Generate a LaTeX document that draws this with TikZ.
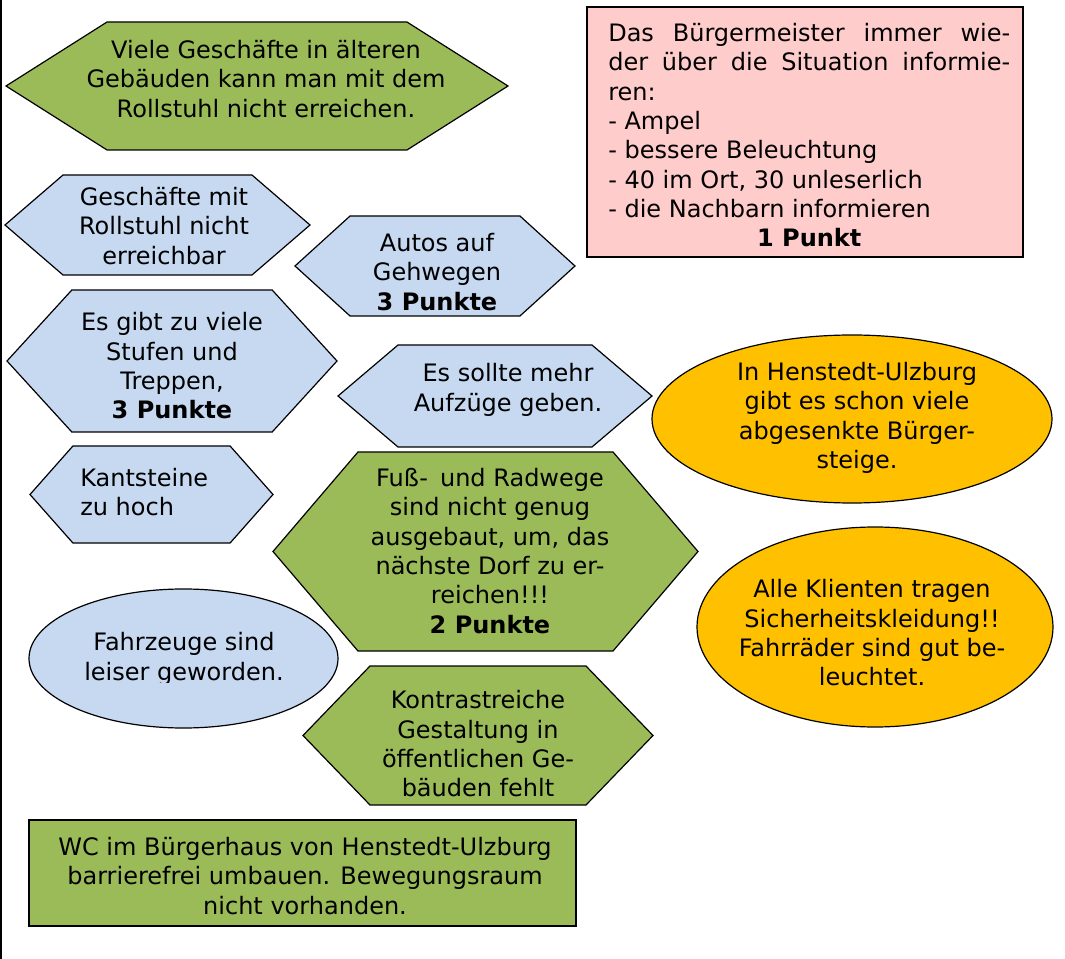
\documentclass[tikz,border=0pt]{standalone}
\usepackage{fontspec}
\setmainfont{DejaVu Sans}
\usepackage{xcolor}
\usetikzlibrary{positioning, shapes.geometric, shapes.symbols}
\definecolor{cGREEN}{HTML}{9BBB59}
\definecolor{cBLUE}{HTML}{C6D9F1}
\definecolor{cPINK}{HTML}{FFCCCC}
\definecolor{cORANGE}{HTML}{FFC000}
\newcommand{\pxu}{0.75pt}
\tikzset{
  hexbox/.style={
    shape=signal, signal to=west and east,
    draw=black, line width=0.9pt,
    fill=#1, inner sep=0pt
  },
  ovalbox/.style={
    ellipse, draw=black, line width=0.9pt,
    fill=#1, inner sep=0pt
  },
  plainbox/.style={
    rectangle, draw=black, line width=1.1pt,
    fill=#1, inner sep=0pt
  },
  txt/.style={
    font=\fontsize{18}{22}\selectfont,
    align=center, inner sep=0pt
  }
}

\begin{document}
\begin{tikzpicture}[x=0.75pt, y=-0.75pt]
  \useasboundingbox (0,0) rectangle (1065,959);
  \draw[line width=2pt] (1,0) -- (1,959);

  \node[hexbox=cGREEN, minimum width=502*\pxu, minimum height=128*\pxu, signal pointer angle=64.7] (viele) at (257,86) {};
  \node[txt] (vieletxt) at (266,79) {Viele Geschäfte in älteren\\Gebäuden kann man mit dem\\Rollstuhl nicht erreichen.};

  \node[plainbox=cPINK, minimum width=436*\pxu, minimum height=250*\pxu] (buerger) at (805,132) {};
  \node[txt, align=justify, text width=402*\pxu, anchor=north west] (buergertxt) at (608,23)
    {Das Bürgermeister immer wie-\linebreak der über die Situation informie-\linebreak ren:\\
     - Ampel\\ - bessere Beleuchtung\\ - 40 im Ort, 30 unleserlich\\ - die Nachbarn informieren\\
     \hspace*{\fill}\textbf{1 Punkt}\hspace*{\fill}\mbox{}};

  \node[hexbox=cBLUE, minimum width=305*\pxu, minimum height=100*\pxu, signal pointer angle=81.5] (laeden) at (157.5,225) {};
  \node[txt] (laedentxt) at (164,226) {Geschäfte mit\\Rollstuhl nicht\\erreichbar};

  \node[hexbox=cBLUE, minimum width=280*\pxu, minimum height=100*\pxu, signal pointer angle=84.5] (autos) at (435,266) {};
  \node[txt] (autostxt) at (437,272) {Autos auf\\Gehwegen\\\textbf{3 Punkte}};

  \node[hexbox=cBLUE, minimum width=330*\pxu, minimum height=142*\pxu, signal pointer angle=95.2] (stufen) at (172,361) {};
  \node[txt] (stufentxt) at (172,366) {Es gibt zu viele\\Stufen und\\Treppen,\\\textbf{3 Punkte}};

  \node[hexbox=cBLUE, minimum width=314*\pxu, minimum height=102*\pxu, signal pointer angle=80.7] (aufzug) at (495,396) {};
  \node[txt] (aufzugtxt) at (508,390) {Es sollte mehr\\Aufzüge geben.};

  \node[ovalbox=cORANGE, minimum width=400*\pxu, minimum height=168*\pxu] (abgesenkt) at (852,419) {};
  \node[txt] (abgesenkttxt) at (857,418) {In Henstedt-Ulzburg\\gibt es schon viele\\abgesenkte Bürger-\\steige.};

  \node[hexbox=cBLUE, minimum width=243*\pxu, minimum height=97*\pxu, signal pointer angle=97] (kante) at (151.5,494.5) {};
  \node[txt, align=left, anchor=west] (kantetxt) at (80,492) {Kantsteine\\zu hoch};

  \node[hexbox=cGREEN, minimum width=425*\pxu, minimum height=199*\pxu, signal pointer angle=99] (radwege) at (485.5,551.5) {};
  \node[txt] (radwegetxt) at (490,551) {Fuß-\hspace{0.5em}und Radwege\\sind nicht genug\\ausgebaut, um, das\\nächste Dorf zu er-\\reichen!!!\\\textbf{2 Punkte}};

  \node[ovalbox=cORANGE, minimum width=356*\pxu, minimum height=200*\pxu] (kleidung) at (875,627) {};
  \node[txt] (kleidungtxt) at (872,633) {Alle Klienten tragen\\Sicherheitskleidung!!\\Fahrräder sind gut be-\\leuchtet.};

  \node[ovalbox=cBLUE, minimum width=309*\pxu, minimum height=139*\pxu] (leise) at (183.5,658.5) {};
  \begin{scope}
    \clip (0,0) rectangle (1065,682);
    \node[txt] (leisetxt) at (184,659) {Fahrzeuge sind\\leiser geworden.};
  \end{scope}

  \node[hexbox=cGREEN, minimum width=350*\pxu, minimum height=139*\pxu, signal pointer angle=92.1] (kontrast) at (478,735.5) {};
  \node[txt] (kontrasttxt) at (478,744) {Kontrastreiche\\Gestaltung in\\öffentlichen Ge-\\bäuden fehlt};

  \node[plainbox=cGREEN, minimum width=547*\pxu, minimum height=106*\pxu] (wc) at (302.5,873) {};
  \node[txt] (wctxt) at (305,876) {WC im Bürgerhaus von Henstedt-Ulzburg\\barrierefrei umbauen. Bewegungsraum\\nicht vorhanden.};
\end{tikzpicture}
\end{document}
